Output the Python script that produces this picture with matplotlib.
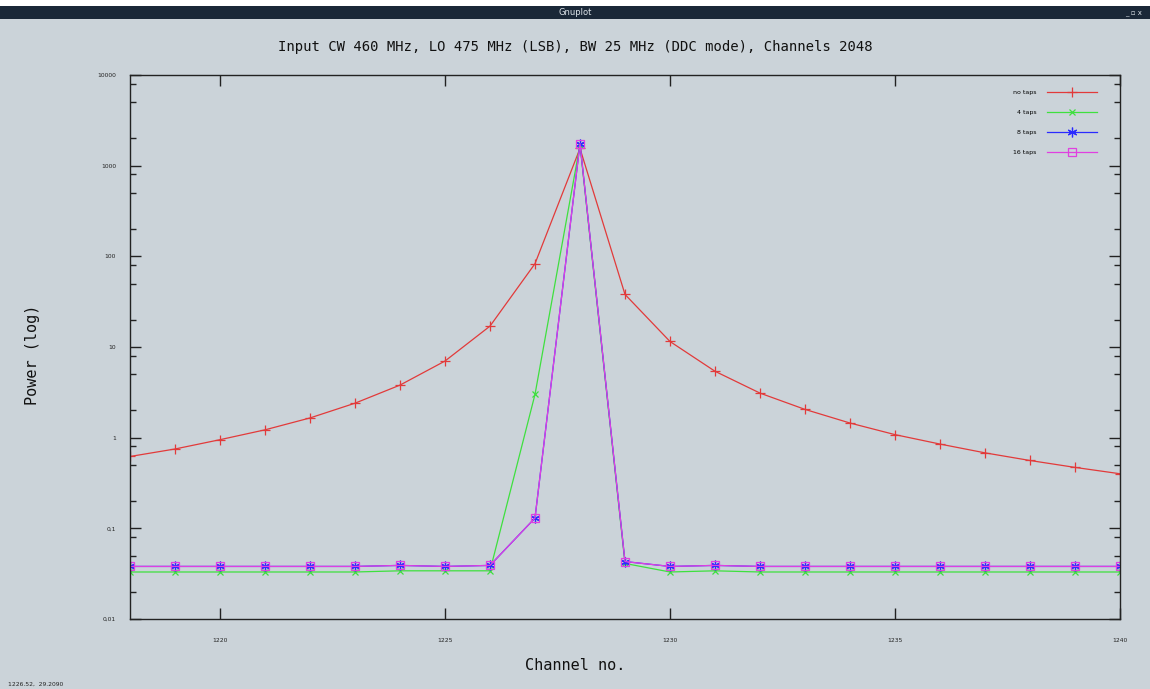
import matplotlib.pyplot as plt
import matplotlib.ticker as ticker
from matplotlib.patches import Rectangle

channels = list(range(1218, 1241))

no_taps = [0.62, 0.75, 0.95, 1.22, 1.65, 2.4, 3.8, 7.0, 17, 83, 1550, 38, 11.5,
           5.4, 3.1, 2.05, 1.45, 1.08, 0.85, 0.68, 0.56, 0.47, 0.40]
taps4 = [0.033, 0.033, 0.033, 0.033, 0.033, 0.033, 0.034, 0.034, 0.034, 3.0, 1700,
         0.041, 0.033, 0.034, 0.033, 0.033, 0.033, 0.033, 0.033, 0.033, 0.033, 0.033, 0.033]
taps8 = [0.038, 0.038, 0.038, 0.038, 0.038, 0.038, 0.039, 0.038, 0.039, 0.13, 1750,
         0.043, 0.038, 0.039, 0.038, 0.038, 0.038, 0.038, 0.038, 0.038, 0.038, 0.038, 0.038]
taps16 = [0.038, 0.038, 0.038, 0.038, 0.038, 0.038, 0.039, 0.038, 0.039, 0.13, 1750,
          0.043, 0.038, 0.039, 0.038, 0.038, 0.038, 0.038, 0.038, 0.038, 0.038, 0.038, 0.038]

ytick_vals = [0.01, 0.1, 1, 10, 100, 1000, 10000]
ytick_labels = ['0,01', '0,1', '1', '10', '100', '1000', '10000']

bg = '#cbd3d9'
fig = plt.figure(figsize=(11.5, 6.89), dpi=100, facecolor=bg)

# window title bar
fig.patches.append(Rectangle((0, 1 - 19/689), 1, 13/689, transform=fig.transFigure,
                             facecolor='#1a2838', edgecolor='none'))
fig.patches.append(Rectangle((0, 1 - 6/689), 1, 6/689, transform=fig.transFigure,
                             facecolor='white', edgecolor='none'))
fig.text(0.5, 1 - 12.5/689, 'Gnuplot', color='#dde4ea', fontsize=6,
         ha='center', va='center')
fig.text(0.993, 1 - 12.5/689, '_ ▫ x', color='#dde4ea', fontsize=5,
         ha='right', va='center')

ax = fig.add_axes([130/1150, 1 - 619/689, 990/1150, 544/689])
ax.set_facecolor(bg)

ax.plot(channels, no_taps, color='#e23a3a', lw=0.9, marker='+', ms=7, mew=0.9,
        label='no taps')
ax.plot(channels, taps4, color='#3ee03e', lw=0.9, marker='x', ms=5, mew=0.9,
        label='4 taps')
ax.plot(channels, taps8, color='#2a2aff', lw=0.9, marker=(6, 2, 0), ms=7, mew=0.9,
        label='8 taps')
ax.plot(channels, taps16, color='#e040e0', lw=0.9, marker='s', ms=6, mew=0.9,
        mfc='none', label='16 taps')

ax.set_yscale('log')
ax.set_xlim(1218, 1240)
ax.set_ylim(0.01, 10000)
ax.set_xticks([1220, 1225, 1230, 1235, 1240])
ax.set_yticks(ytick_vals)
ax.set_yticklabels(ytick_labels)
ax.yaxis.set_minor_locator(ticker.LogLocator(base=10, subs=[2, 5, 8]))
ax.yaxis.set_minor_formatter(ticker.NullFormatter())
ax.xaxis.set_minor_locator(ticker.NullLocator())
ax.tick_params(which='both', direction='in', top=True, right=True, color='#222222',
               labelsize=4.3, labelcolor='#222222', width=1)
ax.tick_params(which='major', length=8, pad=14)
ax.tick_params(which='minor', length=4)
ax.tick_params(axis='y', pad=10)
for s in ax.spines.values():
    s.set_color('#222222')
    s.set_linewidth(1)

fig.text(0.5, 1 - 47/689,
         'Input CW 460 MHz, LO 475 MHz (LSB), BW 25 MHz (DDC mode), Channels 2048',
         family='DejaVu Sans Mono', fontsize=10, ha='center', va='center', color='#111111')
fig.text(0.5, 1 - 666/689, 'Channel no.', family='DejaVu Sans Mono', fontsize=11,
         ha='center', va='center', color='#111111')
fig.text(32/1150, 1 - 355/689, 'Power (log)', family='DejaVu Sans Mono', fontsize=11,
         ha='center', va='center', rotation=90, color='#111111')
fig.text(8/1150, 1 - 684/689, '1226.52,  29.2090', fontsize=4.3, ha='left',
         va='center', color='#222222')

ax.legend(loc='upper right', bbox_to_anchor=(0.982, 0.983), frameon=False,
          markerfirst=False, fontsize=4.5, handlelength=8, labelspacing=2.35,
          handletextpad=1.6)

fig.savefig('out.png', dpi=100, facecolor=bg)
